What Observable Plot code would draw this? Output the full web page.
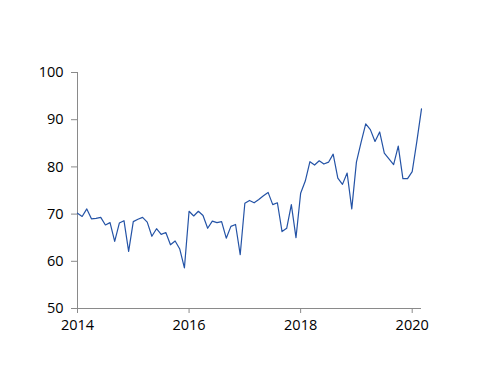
<!DOCTYPE html>
<html>
<head>
<meta charset="utf-8">
<script src="https://cdn.jsdelivr.net/npm/d3@7"></script>
<script src="https://cdn.jsdelivr.net/npm/@observablehq/plot@0.6"></script>
<style>
  html, body { margin: 0; padding: 0; background: #fff; }
  #chart svg { display: block; }
</style>
</head>
<body>
<div id="chart"></div>
<script>
// Monthly values, Jan 2014 – Mar 2020
const startYear = 2014;
const values = [
  70.2, 69.5, 71.1, 69.0, 69.1, 69.3, 67.7, 68.2, 64.2, 68.1, 68.6, 62.1,
  68.4, 68.9, 69.3, 68.3, 65.3, 66.9, 65.7, 66.1, 63.5, 64.3, 62.6, 58.6,
  70.6, 69.6, 70.6, 69.7, 67.0, 68.5, 68.2, 68.4, 64.9, 67.4, 67.8, 61.4,
  72.3, 72.9, 72.4, 73.1, 73.9, 74.6, 72.0, 72.4, 66.3, 67.0, 72.0, 65.0,
  74.4, 77.0, 81.1, 80.4, 81.3, 80.6, 81.0, 82.7, 77.6, 76.3, 78.7, 71.1,
  81.0, 85.2, 89.1, 87.9, 85.4, 87.4, 82.9, 81.7, 80.5, 84.4, 77.5, 77.5,
  79.0, 85.4, 92.3
];
const xTicks = [2014, 2016, 2018, 2020];
const yTicks = [50, 60, 70, 80, 90, 100];

const data = values.map((v, i) => ({ t: startYear + i / 12, v }));

const axisColor = "#8a8a8a";
const chart = Plot.plot({
  width: 500,
  height: 386,
  marginLeft: 77,
  marginRight: 79,
  marginTop: 72,
  marginBottom: 78,
  style: { fontFamily: "'Open Sans', sans-serif", fontSize: "14.5px", color: "#000", background: "#fff" },
  x: { domain: [startYear, startYear + (values.length - 1) / 12] },
  y: { domain: [50, 100] },
  marks: [
    Plot.ruleX([startYear], { stroke: axisColor, strokeWidth: 1 }),
    Plot.ruleY([50], { stroke: axisColor, strokeWidth: 1 }),
    Plot.axisX({ ticks: xTicks, tickFormat: d => String(d), tickSize: 5, tickPadding: 6, stroke: axisColor, color: "#000", label: null, fontSize: 14.5 }),
    Plot.axisY({ ticks: yTicks, tickSize: 6, tickPadding: 8, stroke: axisColor, color: "#000", label: null, fontSize: 14.5 }),
    Plot.line(data, { x: "t", y: "v", stroke: "#2453a6", strokeWidth: 1.2 })
  ]
});
document.getElementById("chart").appendChild(chart);
</script>
</body>
</html>
